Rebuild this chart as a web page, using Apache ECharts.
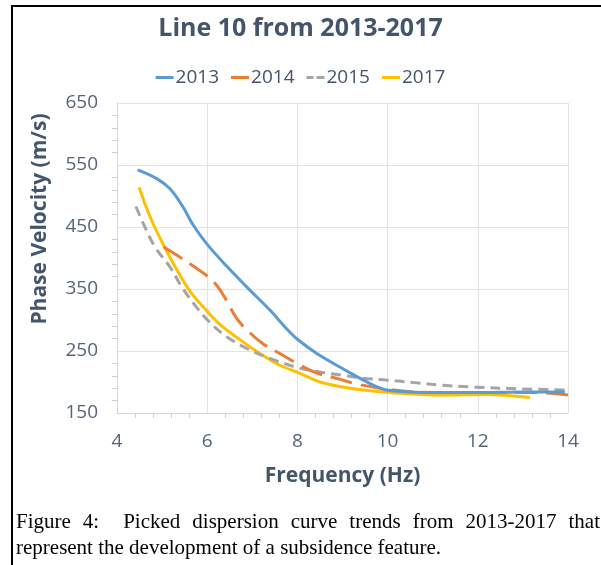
<!DOCTYPE html>
<html>
<head>
<meta charset="utf-8">
<script src="https://cdn.jsdelivr.net/npm/echarts@6/dist/echarts.min.js"></script>
<style>html,body{margin:0;padding:0;background:#fff}#c{width:601px;height:565px}</style>
</head>
<body>
<div id="c"></div>
<script>
var titleText = 'Line 10 from 2013-2017';
var seriesNames = ['2013', '2014', '2015', '2017'];
var xTicks = [4, 6, 8, 10, 12, 14];
var yTicks = [150, 250, 350, 450, 550, 650];
var captionLine1 = 'Figure 4:  Picked dispersion curve trends from 2013-2017 that';
var captionLine2 = 'represent the development of a subsidence feature.';

var data2013 = [[4.46,542],[4.88,528],[5.17,512],[5.44,485],[5.7,452],[6.0,422],[6.43,387],[6.88,353],[7.39,316],[7.76,286],[8.0,269],[8.43,246],[9.09,218],[9.68,195],[9.98,187],[10.5,184],[11,183],[12,183],[13,184],[13.93,184]];
var data2014 = [[5.03,418],[5.55,394],[5.77,383],[6.0,371],[6.21,356],[6.4,335],[6.65,303],[6.88,284],[7.25,261],[7.61,246],[8.06,227],[8.45,214],[8.91,205],[9.24,198],[9.83,190],[10.57,184],[11.5,183],[12.5,183],[13.3,183],[14,179]];
var data2015 = [[4.42,483],[4.58,456],[4.84,418],[5.18,385],[5.43,354],[5.77,320],[6.06,296],[6.43,273],[6.88,254],[7.39,238],[8.06,222],[8.5,216],[9.0,211],[9.46,206],[10.0,203],[10.6,199],[11.2,195],[11.83,192],[12.94,189],[13.97,187]];
var data2017 = [[4.49,514],[4.73,467],[5.03,421],[5.32,382],[5.62,346],[5.95,318],[6.28,293],[6.73,268],[7.17,246],[7.61,227],[8.06,214],[8.5,200],[9.0,192],[9.46,187],[10.2,182],[11.16,179],[12.2,180],[13.16,175]];

var colors = ['#5b9bd5', '#ed7d31', '#a5a5a5', '#ffc000'];
var allData = [data2013, data2014, data2015, data2017];
var dashes = ['solid', [22, 9], [10, 6], 'solid'];
var legendIcons = ['rect', 'rect', 'path://M0,0h7v3h-7z M10,0h8v3h-8z', 'rect'];

var chart = echarts.init(document.getElementById('c'), null, {renderer: 'canvas'});

// justified caption line 1
var capFont = '21px "Liberation Serif", "Times New Roman", serif';
var cv = document.createElement('canvas').getContext('2d');
cv.font = capFont;
var words = captionLine1.split(' ');
var capLeft = 16, capRight = 600;
var units = [];
var wordList = [];
for (var i = 0; i < words.length; i++) {
  if (words[i] === '') { units[units.length - 1] += 1; continue; }
  wordList.push(words[i]);
  units.push(1);
}
units.pop();
var totalW = 0;
wordList.forEach(function (w) { totalW += cv.measureText(w).width; });
var totalUnits = units.reduce(function (a, b) { return a + b; }, 0);
var gapUnit = (capRight - capLeft - totalW) / totalUnits;
var graphics = [];
var xx = capLeft;
wordList.forEach(function (w, k) {
  graphics.push({type: 'text', x: xx, y: 522, style: {text: w, font: capFont, fill: '#000', textVerticalAlign: 'middle'}});
  xx += cv.measureText(w).width + (k < units.length ? units[k] * gapUnit : 0);
});
graphics.push({type: 'text', x: capLeft, y: 548, style: {text: captionLine2, font: capFont, fill: '#000', textVerticalAlign: 'middle'}});
graphics.push({type: 'line', shape: {x1: 12, y1: 6, x2: 12, y2: 565}, style: {stroke: '#000', lineWidth: 2}});
graphics.push({type: 'line', shape: {x1: 11, y1: 6, x2: 601, y2: 6}, style: {stroke: '#000', lineWidth: 2}});

var option = {
  backgroundColor: '#fff',
  animation: false,
  title: {
    text: titleText, left: 'center', top: 11,
    textStyle: {fontFamily: 'Open Sans', fontWeight: 'bold', fontSize: 25, color: '#44546a'}
  },
  legend: {
    top: 63, left: 'center', itemWidth: 18, itemHeight: 3, itemGap: 12,
    data: seriesNames.map(function (n, i) { return {name: n, icon: legendIcons[i]}; }),
    textStyle: {fontFamily: 'Open Sans', fontSize: 19, color: '#44546a', padding: [0, 0, 0, -3]}
  },
  grid: {left: 117, right: 33, top: 103, bottom: 152, containLabel: false},
  xAxis: {
    type: 'value', min: xTicks[0], max: xTicks[xTicks.length - 1], interval: 2,
    name: 'Frequency (Hz)', nameLocation: 'middle', nameGap: 53,
    nameTextStyle: {fontFamily: 'Open Sans', fontWeight: 'bold', fontSize: 21, color: '#44546a'},
    axisLine: {show: true, lineStyle: {color: '#d0d6e0', width: 1}},
    axisTick: {show: false},
    minorTick: {show: true, splitNumber: 5, length: 5, lineStyle: {color: '#c8cfda'}},
    axisLabel: {margin: 19, fontFamily: 'Open Sans', fontSize: 19, color: '#56657a'},
    splitLine: {show: true, lineStyle: {color: '#dfe3ea', width: 1}}
  },
  yAxis: {
    type: 'value', min: yTicks[0], max: yTicks[yTicks.length - 1], interval: 100,
    name: 'Phase Velocity (m/s)', nameLocation: 'middle', nameGap: 66,
    nameTextStyle: {fontFamily: 'Open Sans', fontWeight: 'bold', fontSize: 21, color: '#44546a', padding: [0, 0, 0, 78]},
    axisLine: {show: true, lineStyle: {color: '#d0d6e0', width: 1}},
    axisTick: {show: false},
    minorTick: {show: true, splitNumber: 5, length: 5, lineStyle: {color: '#c8cfda'}},
    axisLabel: {margin: 19, fontFamily: 'Open Sans', fontSize: 19, color: '#56657a'},
    splitLine: {show: true, lineStyle: {color: '#dfe3ea', width: 1}}
  },
  series: seriesNames.map(function (n, i) {
    return {
      name: n, type: 'line', data: allData[i], smooth: 0.35, symbol: 'none',
      z: 10 - i,
      lineStyle: {color: colors[i], width: 3, type: dashes[i]},
      itemStyle: {color: colors[i]}
    };
  }),
  graphic: graphics
};
chart.setOption(option);
</script>
</body>
</html>
